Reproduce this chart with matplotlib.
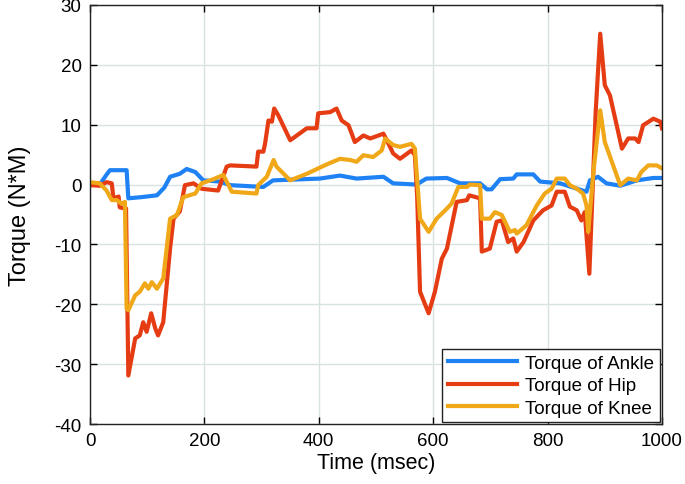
import matplotlib
matplotlib.use("Agg")
import matplotlib.pyplot as plt

plt.rcParams["font.family"] = ["Liberation Sans", "DejaVu Sans"]
plt.rcParams["axes.unicode_minus"] = False

# values (time in msec, torque in N*M)
ankle_t = [0, 17, 30, 35, 64, 67, 90, 117, 130, 140, 157, 169, 184, 198, 227, 245,
           303, 320, 402, 437, 466, 513, 530, 571, 588, 624, 647, 682, 694, 702,
           717, 740, 746, 775, 787, 822, 868, 874, 888, 903, 927, 956, 985, 1000]
ankle_y = [0, 0, 1.8, 2.4, 2.4, -2.3, -2.1, -1.8, -0.5, 1.3, 1.8, 2.6, 2.1, 0.7, 0.5, -0.1,
           -0.4, 0.7, 1.0, 1.5, 1.0, 1.3, 0.2, 0.0, 1.0, 1.1, 0.2, 0.2, -0.8, -0.8,
           0.9, 1.0, 1.7, 1.7, 0.5, 0.2, -1.2, 0.7, 1.3, 0.2, -0.2, 0.7, 1.1, 1.1]

hip_t = [0, 17, 29, 38, 41, 50, 52, 61, 63, 67, 79, 87, 93, 99, 107, 114, 119, 128,
         140, 146, 157, 166, 181, 195, 224, 239, 245, 291, 294, 303, 306, 312, 318,
         322, 329, 350, 379, 396, 399, 420, 431, 440, 452, 463, 478, 490, 513, 519,
         530, 542, 562, 568, 572, 577, 592, 603, 615, 624, 641, 659, 663, 682, 685,
         699, 711, 720, 731, 740, 746, 758, 775, 792, 807, 816, 830, 839, 851, 859,
         865, 873, 884, 892, 900, 909, 930, 941, 953, 959, 967, 985, 997, 1000]
hip_y = [-0.1, -0.2, 0.4, 0.2, -2.3, -2.0, -3.8, -4.0, -4.0, -31.9, -25.7, -25.2, -23.0,
         -24.6, -21.5, -24.0, -25.2, -23.0, -10.7, -5.7, -4.5, -0.1, 0.2, -0.7, -1.0,
         3.0, 3.2, 3.0, 5.5, 5.5, 6.8, 10.7, 10.5, 12.7, 11.6, 7.4, 9.4, 9.4, 11.9,
         12.1, 12.7, 10.7, 9.9, 7.1, 8.2, 7.7, 8.5, 7.4, 5.2, 4.3, 5.7, 4.9, -2.0,
         -17.9, -21.5, -17.9, -12.4, -10.7, -2.9, -2.6, -1.8, -2.3, -11.2, -10.7, -6.2,
         -6.0, -9.6, -9.0, -11.2, -9.6, -6.0, -4.3, -3.5, -1.2, -1.2, -3.7, -4.3, -6.0,
         -4.6, -14.9, 12.0, 25.2, 16.6, 14.9, 6.0, 7.7, 7.7, 7.1, 9.9, 11.0, 10.5, 9.4]

knee_t = [0, 17, 29, 38, 47, 55, 61, 64, 67, 79, 87, 96, 102, 108, 117, 128, 140,
          152, 163, 184, 195, 216, 233, 248, 291, 294, 309, 315, 321, 326, 350, 379,
          399, 417, 437, 455, 466, 478, 495, 510, 516, 530, 542, 562, 568, 577, 592,
          606, 621, 632, 644, 659, 664, 682, 685, 699, 708, 720, 734, 743, 746, 763,
          781, 795, 807, 816, 830, 839, 851, 862, 868, 871, 880, 892, 900, 927, 941,
          956, 964, 976, 991, 1000]
knee_y = [0.4, 0.2, -1.0, -2.6, -2.6, -3.2, -2.9, -20.7, -21.0, -18.5, -17.9, -16.5,
          -17.4, -16.3, -17.4, -15.7, -5.7, -5.1, -2.1, -1.5, 0.2, 0.9, 1.6, -1.2, -1.5,
          -0.1, 1.3, 2.7, 4.1, 3.0, 0.7, 1.8, 2.7, 3.5, 4.3, 4.1, 3.8, 4.9, 4.6, 5.7,
          7.7, 6.6, 6.3, 6.8, 6.0, -5.7, -7.9, -5.7, -4.3, -3.2, -0.4, -0.4, 0.0, -0.1,
          -5.7, -5.7, -4.6, -5.1, -7.9, -7.6, -8.2, -6.8, -3.5, -1.5, -0.7, 1.0, 1.0,
          -0.1, -0.7, -1.5, -3.5, -7.9, 2.0, 12.4, 7.1, -0.1, 1.0, 0.7, 2.1, 3.2, 3.2, 2.7]

fig = plt.figure(figsize=(6.85, 4.85), dpi=100)
ax = fig.add_axes([0.1314, 0.1237, 0.835, 0.864])

lw = 3.0
ax.plot(ankle_t, ankle_y, color="#1e82f5", lw=lw, label="Torque of Ankle")
ax.plot(hip_t, hip_y, color="#e63c14", lw=lw, label="Torque of Hip")
ax.plot(knee_t, knee_y, color="#f0a818", lw=lw, label="Torque of Knee")

ax.set_xlim(0, 1000)
ax.set_ylim(-40, 30)
ax.set_xticks(range(0, 1001, 200))
ax.set_yticks(range(-40, 31, 10))
ax.grid(True, color="#d8e2e2", lw=1.0)
ax.set_axisbelow(True)
ax.tick_params(direction="in", labelsize=13.5, length=5, width=1,
               top=True, right=True, pad=6)
for s in ax.spines.values():
    s.set_color("#222222")
    s.set_linewidth(1.0)

ax.set_xlabel("Time (msec)", fontsize=15.5, labelpad=2)
ax.set_ylabel("Torque (N*M)", fontsize=17, labelpad=17)

leg = ax.legend(loc="lower right", fontsize=13.5, handlelength=3.7, fancybox=False,
                framealpha=1, borderaxespad=0.1, labelspacing=0.28, handletextpad=0.45,
                borderpad=0.3)
leg.get_frame().set_edgecolor("#222222")
leg.get_frame().set_linewidth(1.0)

fig.savefig("out.png", dpi=100)
